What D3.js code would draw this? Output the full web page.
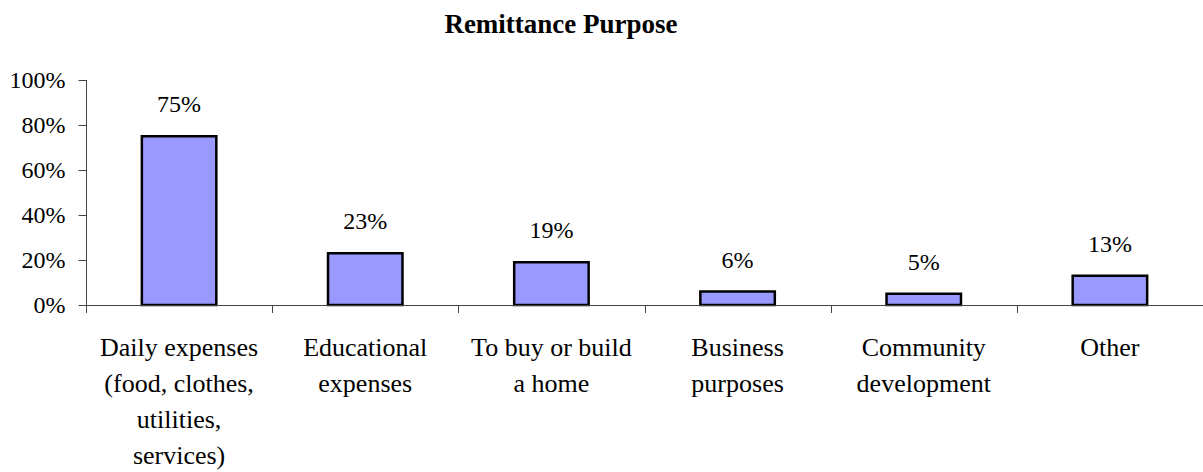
<!DOCTYPE html>
<html>
<head>
<meta charset="utf-8">
<script src="https://cdn.jsdelivr.net/npm/d3@7"></script>
<style>
  html, body { margin: 0; padding: 0; background: #fff; }
  svg { display: block; }
  text { font-family: "Liberation Serif", "Times New Roman", serif; fill: #000; }
</style>
</head>
<body>
<svg id="chart" width="1203" height="472"></svg>
<script>
// Share of respondents by remittance purpose
const categories = [
  "Daily expenses (food, clothes, utilities, services)",
  "Educational expenses",
  "To buy or build a home",
  "Business purposes",
  "Community development",
  "Other"
];
const categoryLines = [
  ["Daily expenses", "(food, clothes,", "utilities,", "services)"],
  ["Educational", "expenses"],
  ["To buy or build", "a home"],
  ["Business", "purposes"],
  ["Community", "development"],
  ["Other"]
];
const values = [75, 23, 19, 6, 5, 13];
const yTicks = [0, 20, 40, 60, 80, 100];
const title = "Remittance Purpose";

const svg = d3.select("#chart");
const plotLeft = 86, plotRight = 1203, plotTop = 80, plotBottom = 305;

const x = d3.scaleBand()
  .domain(categories)
  .range([plotLeft, plotRight])
  .paddingInner(0.6)
  .paddingOuter(0.3);

const y = d3.scaleLinear().domain([0, 100]).range([plotBottom, plotTop]);

// Title
svg.append("text")
  .attr("x", 561)
  .attr("y", 33)
  .attr("text-anchor", "middle")
  .style("font-size", "27px")
  .style("font-weight", "bold")
  .text(title);

// Y axis
const yAxis = svg.append("g")
  .attr("transform", `translate(${plotLeft + 0.5},0)`)
  .call(d3.axisLeft(y).tickValues(yTicks).tickSize(8).tickPadding(13)
    .tickFormat(d => d + "%"));
yAxis.select(".domain").attr("d", `M0,${plotTop}V${plotBottom}`);
yAxis.selectAll("line, path").attr("stroke", "#444").attr("stroke-width", 1);
yAxis.selectAll("text")
  .style("font-size", "24px")
  .style("font-family", "'Liberation Serif', serif")
  .attr("dy", "0.33em");

// Bars
svg.append("g").selectAll("rect")
  .data(values)
  .join("rect")
  .attr("x", (d, i) => x(categories[i]))
  .attr("y", d => y(d))
  .attr("width", x.bandwidth())
  .attr("height", d => y(0) - y(d))
  .attr("fill", "#9999FF")
  .attr("stroke", "#000")
  .attr("stroke-width", 2.5);

// X axis: category separators below the baseline
const step = x.step();
const boundaries = d3.range(categories.length + 1).map(i => plotLeft + i * step);
const xAxis = svg.append("g");
xAxis.append("line")
  .attr("x1", plotLeft).attr("x2", plotRight)
  .attr("y1", plotBottom + 0.5).attr("y2", plotBottom + 0.5)
  .attr("stroke", "#444");
xAxis.selectAll("line.sep")
  .data(boundaries)
  .join("line")
  .attr("class", "sep")
  .attr("x1", d => Math.round(d) + 0.5).attr("x2", d => Math.round(d) + 0.5)
  .attr("y1", plotBottom).attr("y2", plotBottom + 8)
  .attr("stroke", "#444");

// Value labels
svg.append("g").selectAll("text")
  .data(values)
  .join("text")
  .attr("x", (d, i) => x(categories[i]) + x.bandwidth() / 2)
  .attr("y", d => y(d) - 24)
  .attr("text-anchor", "middle")
  .style("font-size", "24px")
  .text(d => d + "%");

// Category labels
const catG = svg.append("g").selectAll("text")
  .data(categoryLines)
  .join("text")
  .attr("text-anchor", "middle")
  .style("font-size", "26px")
  .attr("transform", (d, i) => `translate(${x(categories[i]) + x.bandwidth() / 2},355.5)`);
catG.selectAll("tspan")
  .data(d => d)
  .join("tspan")
  .attr("x", 0)
  .attr("y", (d, j) => j * 36.3)
  .text(d => d);
</script>
</body>
</html>
